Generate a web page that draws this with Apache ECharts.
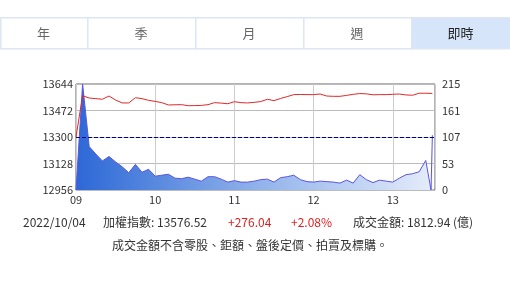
<!DOCTYPE html>
<html>
<head>
<meta charset="utf-8">
<script src="https://cdn.jsdelivr.net/npm/echarts@6/dist/echarts.min.js"></script>
<style>
  html, body { margin: 0; padding: 0; background: #fff; }
  #main { width: 510px; height: 290px; }
</style>
</head>
<body>
<div id="main"></div>
<script>
// 分鐘 (從 09:00 起算)
var minutes = [0, 5, 10, 15, 20, 25, 30, 35, 40, 45, 50, 55, 60, 65, 70, 75, 80, 85, 90, 95,
  100, 105, 110, 115, 120, 125, 130, 135, 140, 145, 150, 155, 160, 165, 170, 175, 180, 185, 190, 195,
  200, 205, 210, 215, 220, 225, 230, 235, 240, 245, 250, 255, 260, 265, 269, 270];
// 加權指數
var indexValues = [13300, 13568, 13553, 13549, 13545, 13566, 13540, 13521, 13521, 13555, 13549, 13538, 13531, 13523, 13508, 13509, 13510, 13503, 13504, 13505,
  13510, 13523, 13520, 13516, 13529, 13523, 13521, 13525, 13530, 13545, 13536, 13550, 13562, 13575, 13576, 13575, 13575, 13579, 13566, 13564,
  13564, 13570, 13577, 13582, 13580, 13574, 13575, 13575, 13577, 13579, 13573, 13571, 13584, 13584, 13583, 13583];
// 成交金額
var volumeValues = [0, 215, 88, 73, 59, 68, 57, 47, 35, 52, 36, 42, 28, 30, 32, 24, 23, 26, 22, 18,
  27, 27, 22, 16, 19, 16, 16, 18, 21, 22, 16, 25, 27, 30, 21, 17, 16, 18, 17, 16,
  14, 20, 14, 31, 21, 15, 20, 18, 16, 24, 31, 33, 37, 60, 0, 111];
var leftTicks = [12956, 13128, 13300, 13472, 13644];
var hourLabels = ['09', '10', '11', '12', '13'];
var tabs = ['年', '季', '月', '週', '即時'];
var prevClose = 13300;

var font = '"Noto Sans CJK TC", "Noto Sans", sans-serif';

var indexData = minutes.map(function (m, i) { return [m, indexValues[i]]; });
var volumeData = minutes.map(function (m, i) { return [m, volumeValues[i]]; });

// 上方頁籤
var tabEdges = [0, 87, 195, 303, 411, 510];
var graphics = [];
tabs.forEach(function (t, i) {
  var x0 = tabEdges[i], x1 = tabEdges[i + 1];
  graphics.push({
    type: 'rect', left: x0, top: 17,
    shape: { width: x1 - x0, height: 31 },
    style: { fill: i === 4 ? '#d7e5fa' : '#fff', stroke: '#dce6f4', lineWidth: 1.5 }
  });
  graphics.push({
    type: 'text', x: (x0 + x1) / 2, y: 33,
    style: { text: t, font: '13px ' + font, fill: i === 4 ? '#222' : '#666', align: 'center', verticalAlign: 'middle' }
  });
});

// 下方資訊
function info(text, x, color, align) {
  graphics.push({
    type: 'text', x: x, y: 222,
    style: { text: text, font: '12px ' + font, fill: color, align: align || 'left', verticalAlign: 'middle' }
  });
}
info('2022/10/04', 23, '#333');
info('加權指數: 13576.52', 103, '#333');
info('+276.04', 228, '#e02020');
info('+2.08%', 291, '#e02020');
info('成交金額: 1812.94 (億)', 353, '#333');
graphics.push({
  type: 'text', x: 250, y: 245,
  style: { text: '成交金額不含零股、鉅額、盤後定價、拍賣及標購。', font: '12px ' + font, fill: '#333', align: 'center', verticalAlign: 'middle' }
});

var myChart = echarts.init(document.getElementById('main'));

var option = {
  animation: false,
  backgroundColor: '#fff',
  grid: { left: 76, right: 75, top: 84, bottom: 100, show: true, borderColor: '#666', borderWidth: 1 },
  xAxis: {
    type: 'value', min: 0, max: 272, interval: 60,
    axisLine: { show: false },
    axisTick: { show: false },
    axisLabel: {
      margin: 4, fontSize: 11, color: '#333', fontFamily: font,
      formatter: function (v) { return hourLabels[v / 60] || ''; }
    },
    splitLine: { show: true, lineStyle: { color: '#ccc' } }
  },
  yAxis: [{
    type: 'value', min: 12956, max: 13644, interval: 172,
    axisLine: { show: false },
    axisTick: { show: false },
    axisLabel: {
      customValues: leftTicks, margin: 3, fontSize: 11, color: '#333', fontFamily: font,
      formatter: function (v) { return String(v); }
    },
    splitLine: { show: false }
  }, {
    type: 'value', min: 0, max: 215, interval: 53.75,
    axisLine: { show: false },
    axisTick: { show: false },
    axisLabel: {
      margin: 7, fontSize: 11, color: '#333', fontFamily: font,
      formatter: function (v) { return Math.floor(v); }
    },
    splitLine: { show: true, lineStyle: { color: '#bbb' } }
  }],
  series: [{
    name: '成交金額', type: 'line', yAxisIndex: 1, data: volumeData,
    symbol: 'none', z: 2,
    lineStyle: { color: '#5a55e0', width: 1 },
    areaStyle: {
      opacity: 1,
      color: new echarts.graphic.LinearGradient(0, 0, 1, 0, [
        { offset: 0, color: '#2c68d6' },
        { offset: 0.5, color: '#8fb1ea' },
        { offset: 1, color: '#e4ecfa' }
      ])
    }
  }, {
    name: '加權指數', type: 'line', yAxisIndex: 0, data: indexData,
    symbol: 'none', z: 3,
    lineStyle: { color: '#e02828', width: 1 },
    markLine: {
      silent: true, symbol: 'none', label: { show: false },
      lineStyle: { color: '#000090', type: [4, 2], width: 1 },
      data: [{ yAxis: prevClose }]
    }
  }],
  graphic: graphics
};

myChart.setOption(option);
</script>
</body>
</html>
